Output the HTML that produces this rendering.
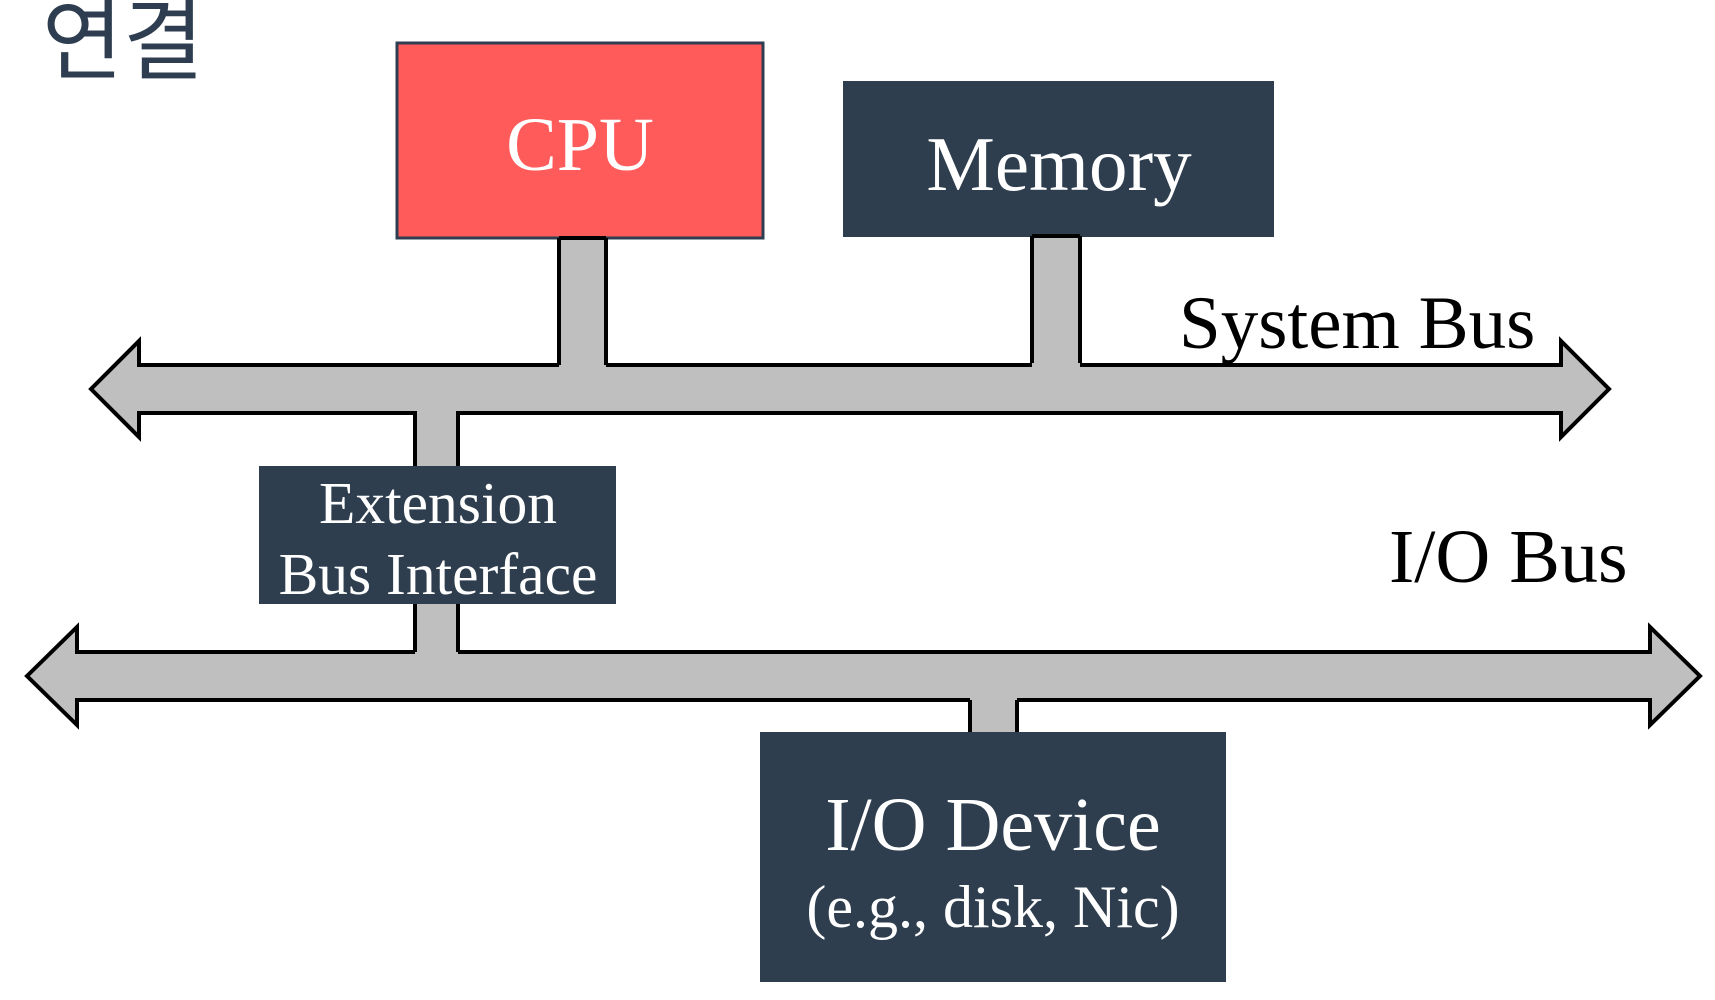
<!DOCTYPE html>
<html><head><meta charset="utf-8"><style>
html,body{margin:0;padding:0;background:#fff;width:1715px;height:1000px;overflow:hidden}
svg{display:block}
text{font-family:"Liberation Serif",serif}
</style></head><body>
<svg width="1715" height="1000" viewBox="0 0 1715 1000">
<text x="42" y="72" style="font-family:'Liberation Sans','Noto Sans CJK KR',sans-serif" font-size="88" fill="#2e3e50">연결</text>

<rect x="397" y="43" width="366" height="195" fill="#ff5b5b" stroke="#2e3e50" stroke-width="3"/>
<text x="580" y="170" font-size="76" fill="#fff" text-anchor="middle">CPU</text>
<rect x="843" y="81" width="431" height="156" fill="#2e3e4e"/>
<text x="1059" y="190" font-size="77" fill="#fff" text-anchor="middle">Memory</text>

<polygon points="91,389 139,341 139,365 1561,365 1561,341 1609,389 1561,437 1561,413 139,413 139,437" fill="#bfbfbf" stroke="#000" stroke-width="4"/>
<rect x="559" y="237" width="47" height="130" fill="#bfbfbf"/>
<path d="M559 238 V365 M606 238 V365 M559 238 H606" stroke="#000" stroke-width="4" fill="none"/>
<rect x="1032" y="235" width="48" height="132" fill="#bfbfbf"/>
<path d="M1032 236 V363 M1080 236 V363 M1032 236 H1080" stroke="#000" stroke-width="4" fill="none"/>
<rect x="415" y="411" width="43" height="57" fill="#bfbfbf"/>
<path d="M415 411 V468 M458 411 V468" stroke="#000" stroke-width="4" fill="none"/>

<text x="1179" y="348" font-size="75" fill="#000">System Bus</text>
<text x="1389" y="582" font-size="76" fill="#000">I/O Bus</text>

<rect x="259" y="466" width="357" height="138" fill="#2e3e4e"/>
<text x="438" y="523" font-size="59.5" fill="#fff" text-anchor="middle">Extension</text>
<text x="438" y="594" font-size="59.5" fill="#fff" text-anchor="middle">Bus Interface</text>

<polygon points="27,676 77,627 77,652 1650,652 1650,627 1700,676 1650,725 1650,700 77,700 77,725" fill="#bfbfbf" stroke="#000" stroke-width="4"/>
<rect x="415" y="604" width="43" height="50" fill="#bfbfbf"/>
<path d="M415 604 V652 M458 604 V652" stroke="#000" stroke-width="4" fill="none"/>
<rect x="970" y="698" width="47" height="36" fill="#bfbfbf"/>
<path d="M970 700 V733 M1017 700 V733" stroke="#000" stroke-width="4" fill="none"/>

<rect x="760" y="732" width="466" height="250" fill="#2e3e4e"/>
<text x="993" y="850" font-size="76" fill="#fff" text-anchor="middle">I/O Device</text>
<text x="993" y="927" font-size="60" fill="#fff" text-anchor="middle">(e.g., disk, Nic)</text>
</svg>
</body></html>
